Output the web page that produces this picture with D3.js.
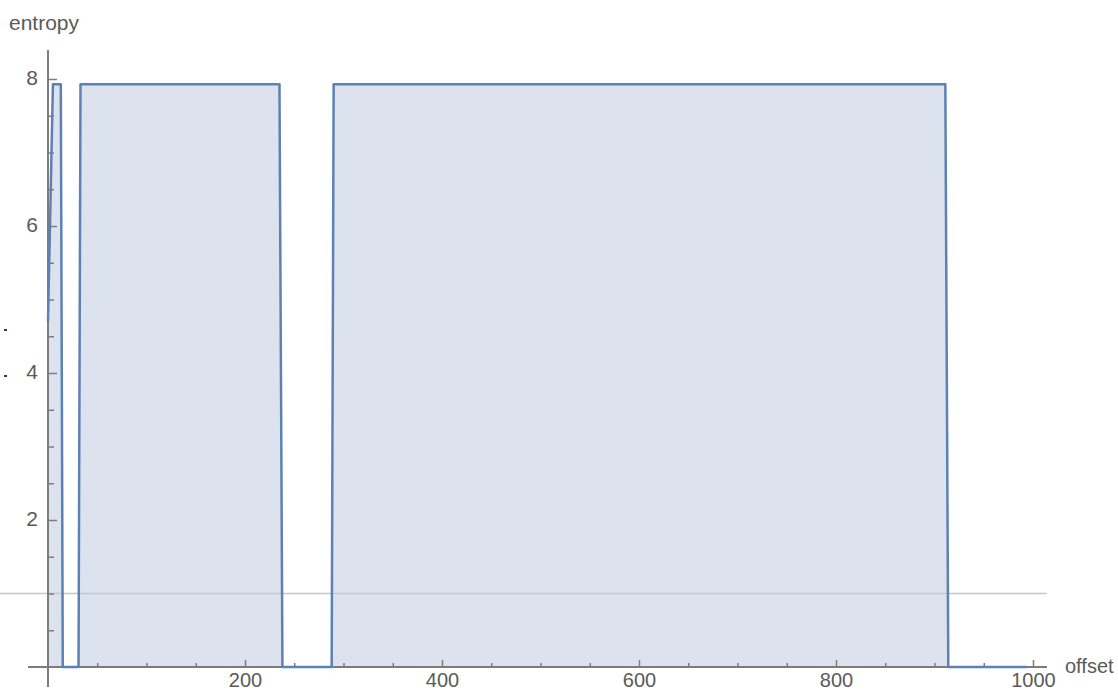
<!DOCTYPE html>
<html>
<head>
<meta charset="utf-8">
<script src="https://cdn.jsdelivr.net/npm/d3@7"></script>
<style>
  body { margin: 0; background: #fff; }
  text { font-family: "Liberation Sans", Arial, sans-serif; fill: #5a5a5a; }
</style>
</head>
<body>
<div id="chart"></div>
<script>
// entropy per block offset
var offsets = [0, 5, 13, 15, 31, 33, 235, 238, 288, 290, 911, 914, 994];
var entropy = [4.7, 7.93, 7.93, 0, 0, 7.93, 7.93, 0, 0, 7.93, 7.93, 0, 0];

var xMajor = [200, 400, 600, 800, 1000];
var xMinor = [50, 100, 150, 250, 300, 350, 450, 500, 550, 650, 700, 750, 850, 900, 950];
var yMajor = [2, 4, 6, 8];
var yMinor = [0.5, 1, 1.5, 2.5, 3, 3.5, 4.5, 5, 5.5, 6.5, 7, 7.5];
var refLine = 1;

var data = offsets.map((d, i) => ({ x: d, y: entropy[i] }));

var svg = d3.select("#chart").append("svg")
    .attr("width", 1118)
    .attr("height", 693);

var xScale = d3.scaleLinear().domain([0, 1000]).range([48, 1033]);
var yScale = d3.scaleLinear().domain([0, 8]).range([667, 79]);

// filled area down to axis
svg.append("path")
    .datum(data)
    .attr("d", d3.area().x(d => xScale(d.x)).y0(yScale(0)).y1(d => yScale(d.y)))
    .style("fill", "#dde3ee");

// reference line
svg.append("line")
    .attr("x1", 0).attr("x2", 1047)
    .attr("y1", yScale(refLine)).attr("y2", yScale(refLine))
    .style("stroke", "#c4c6c8")
    .style("stroke-width", 1.5);

// axes
var xAxis = svg.append("g")
    .attr("transform", "translate(0," + yScale(0) + ")")
    .call(d3.axisBottom(xScale).tickValues(xMajor).tickFormat(d3.format("d"))
        .tickSize(-7).tickPadding(6).tickSizeOuter(0));
var xAxisMinor = svg.append("g")
    .attr("transform", "translate(0," + yScale(0) + ")")
    .call(d3.axisBottom(xScale).tickValues(xMinor).tickSize(-4).tickFormat("").tickSizeOuter(0));
var yAxis = svg.append("g")
    .attr("transform", "translate(" + xScale(0) + ",0)")
    .call(d3.axisLeft(yScale).tickValues(yMajor).tickSize(-9).tickPadding(10).tickSizeOuter(0));
var yAxisMinor = svg.append("g")
    .attr("transform", "translate(" + xScale(0) + ",0)")
    .call(d3.axisLeft(yScale).tickValues(yMinor).tickSize(-6).tickFormat("").tickSizeOuter(0));

svg.selectAll(".domain").remove();
svg.selectAll(".tick line").style("stroke", "#7c7c7c").style("stroke-width", 1.5);
svg.selectAll(".tick text").style("font-size", "21px").style("fill", "#5a5a5a");
yAxis.selectAll(".tick text").attr("dy", "0.25em");
xAxis.selectAll(".tick text").style("font-size", "20px").attr("dy", "0.7em");

svg.append("line")
    .attr("x1", 28).attr("x2", 1047)
    .attr("y1", yScale(0)).attr("y2", yScale(0))
    .style("stroke", "#7c7c7c").style("stroke-width", 2);
svg.append("line")
    .attr("x1", xScale(0)).attr("x2", xScale(0))
    .attr("y1", 50).attr("y2", 687)
    .style("stroke", "#7c7c7c").style("stroke-width", 2);

// entropy line
svg.append("path")
    .datum(data)
    .attr("d", d3.line().x(d => xScale(d.x)).y(d => yScale(d.y)))
    .style("fill", "none")
    .style("stroke", "#5e81b5")
    .style("stroke-width", 2.5)
    .style("stroke-linejoin", "round");

// small stray marks at the left edge
svg.selectAll(".dot")
    .data([330, 376])
    .enter().append("rect")
    .attr("x", 4).attr("y", d => d - 1)
    .attr("width", 3).attr("height", 2)
    .style("fill", "#2a3a55");

// axis labels
svg.append("text")
    .attr("x", 9).attr("y", 30)
    .style("font-size", "21px")
    .text("entropy");

svg.append("text")
    .attr("x", 1065).attr("y", 673)
    .style("font-size", "20px")
    .text("offset");
</script>
</body>
</html>
